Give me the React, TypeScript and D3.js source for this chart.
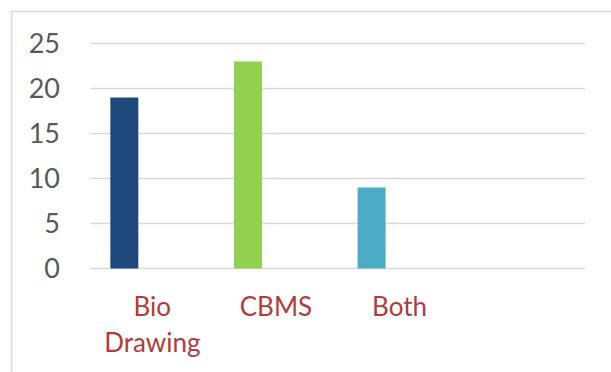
import React, { useEffect, useRef } from 'react';
import * as d3 from 'd3';

// categories along the x axis (the last slot is empty in the original)
const categories = ['Bio Drawing', 'CBMS', 'Both', ''];
// one value per category
const counts = [19, 23, 9, null];
// each bar has its own colour
const barColors = ['#1F497D', '#92D050', '#4BACC6', '#4BACC6'];
// series slots inside each category, only the first one is filled
const slots = ['s1', 's2', 's3'];
const yTicks = [0, 5, 10, 15, 20, 25];

const App = () => {
  const ref = useRef<SVGSVGElement>(null);

  const W = 611;
  const H = 372;
  const margin = { top: 43.5, right: 26, bottom: 103.5, left: 90.5 };

  useEffect(() => {
    const svg = d3.select(ref.current);
    svg.selectAll('*').remove();

    // outer chart frame
    svg.append('rect')
      .attr('x', 11.5)
      .attr('y', 11.5)
      .attr('width', 700)
      .attr('height', 500)
      .attr('fill', '#fff')
      .attr('stroke', '#d9d9d9')
      .attr('stroke-width', 1.5);

    const x0 = d3.scaleBand<string>()
      .domain(categories)
      .range([margin.left, W - margin.right])
      .padding(0);
    const x1 = d3.scaleBand<string>()
      .domain(slots)
      .range([0, x0.bandwidth()])
      .paddingInner(0)
      .paddingOuter(0.71);
    const y = d3.scaleLinear()
      .domain([0, 25])
      .range([H - margin.bottom, margin.top]);

    // gridlines
    svg.append('g')
      .selectAll('line')
      .data(yTicks)
      .join('line')
      .attr('x1', margin.left)
      .attr('x2', W - margin.right)
      .attr('y1', d => y(d))
      .attr('y2', d => y(d))
      .attr('stroke', '#d9d9d9')
      .attr('stroke-width', 1.5);

    // y labels
    svg.append('g')
      .selectAll('text')
      .data(yTicks)
      .join('text')
      .attr('x', 60)
      .attr('y', d => y(d))
      .attr('dy', '0.35em')
      .attr('text-anchor', 'end')
      .attr('fill', '#595959')
      .attr('font-family', 'Lato, "Open Sans", sans-serif')
      .attr('font-size', 27)
      .text(d => d);

    // bars
    svg.append('g')
      .selectAll('rect')
      .data(categories.map((c, i) => ({ c, v: counts[i], color: barColors[i] })).filter(d => d.v != null))
      .join('rect')
      .attr('x', d => (x0(d.c) as number) + (x1('s1') as number))
      .attr('width', x1.bandwidth())
      .attr('y', d => y(d.v as number))
      .attr('height', d => y(0) - y(d.v as number))
      .attr('fill', d => d.color);

    // category labels, wrapped to the band width
    const labels = svg.append('g')
      .selectAll('text')
      .data(categories)
      .join('text')
      .attr('x', d => (x0(d) as number) + x0.bandwidth() / 2)
      .attr('y', 316)
      .attr('text-anchor', 'middle')
      .attr('fill', '#B23B3B')
      .attr('font-family', 'Lato, "Open Sans", sans-serif')
      .attr('font-size', 26);

    labels.each(function (d) {
      const t = d3.select(this);
      const words = d.split(' ');
      let line: string[] = [];
      let tspan = t.append('tspan').attr('x', t.attr('x')).attr('dy', 0);
      words.forEach(w => {
        line.push(w);
        tspan.text(line.join(' '));
        if ((tspan.node() as SVGTSpanElement).getComputedTextLength() > x0.bandwidth() - 10 && line.length > 1) {
          line.pop();
          tspan.text(line.join(' '));
          line = [w];
          tspan = t.append('tspan').attr('x', t.attr('x')).attr('dy', 36).text(w);
        }
      });
    });
  }, []);

  return (
    <svg ref={ref} width={W} height={H} style={{ position: 'absolute', left: 0, top: 0 }} />
  );
};

export default App;
